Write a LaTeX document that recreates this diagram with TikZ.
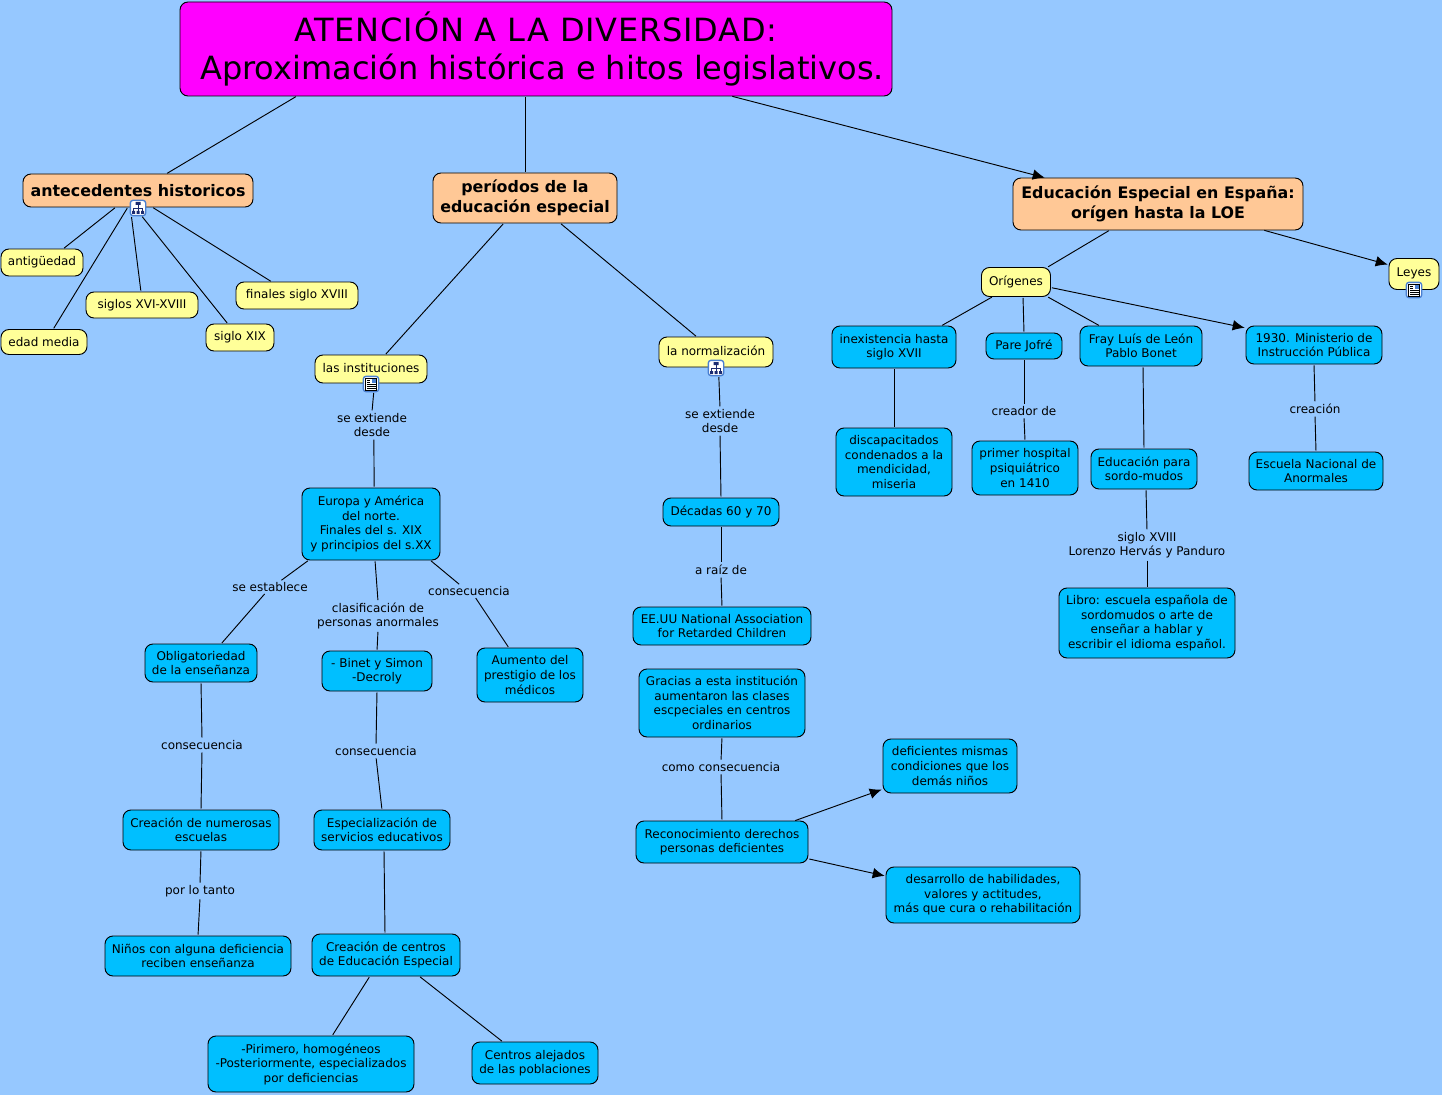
\documentclass[tikz,border=0pt]{standalone}
\usepackage{fontspec}
\setmainfont{DejaVu Sans}
\usetikzlibrary{arrows.meta}
\definecolor{bgblue}{HTML}{96C8FF}
\definecolor{titlepink}{HTML}{FF00FF}
\definecolor{peach}{HTML}{FFC896}
\definecolor{paleyellow}{HTML}{FFFF99}
\definecolor{skyblue}{HTML}{00BFFF}
\definecolor{iconblue}{HTML}{4A7FD0}
\definecolor{iconnavy}{HTML}{1A2A70}
\tikzset{
  sized/.style 2 args={minimum width=#1*0.75pt,minimum height=#2*0.75pt},
  px/.style={xshift=#1*0.75pt},
  cmap/.style={draw,rounded corners=6pt,inner sep=0pt,outer sep=0pt,align=center,
    line width=0.7pt,font=\fontsize{9}{10.9}\selectfont},
  head/.style={cmap,fill=peach,font=\fontsize{11.9}{14.6}\selectfont\bfseries},
  concept/.style={cmap,fill=paleyellow},
  info/.style={cmap,fill=skyblue},
  phrase/.style={inner sep=1pt,outer sep=0pt,align=center,font=\fontsize{9}{10.9}\selectfont},
  link/.style={line width=0.7pt,shorten <=1pt,shorten >=1pt},
  linkto/.style={link,-{Latex[length=9pt,width=8pt]}},
  iconbox/.style={draw=iconblue,fill=white,rounded corners=2pt,line width=1pt,
    minimum size=11.5pt,inner sep=0pt,outer sep=0pt},
  treeglyph/.pic={
    \fill[iconnavy] (-2.5,-6) rectangle (2.5,-3) (-6,3) rectangle (-3,6)
      (-1.5,3) rectangle (1.5,6) (3,3) rectangle (6,6);
    \draw[iconnavy,line width=0.5pt] (0,-3) -- (0,3) (-4.5,3) -- (-4.5,0) -- (4.5,0) -- (4.5,3);
  },
  pageglyph/.pic={
    \draw[black,fill=white,line width=0.5pt] (-5.5,-6) rectangle (5.5,6);
    \fill[iconblue] (0.5,-5) rectangle (4.5,-1);
    \draw[black,line width=0.5pt] (-4,-4) -- (-1,-4) (-4,-2) -- (-1,-2) (-4,0.5) -- (4.5,0.5)
      (-4,2.5) -- (4.5,2.5) (-4,4.5) -- (4.5,4.5);
  }
}
\begin{document}
\begin{tikzpicture}[x=0.75pt,y=-0.75pt]
\useasboundingbox (0,0) rectangle (1442,1095);
\fill[bgblue] (0,0) rectangle (1442,1095);
% top of the map
\node[cmap,fill=titlepink,sized={712}{94},font=\fontsize{24}{29.2}\selectfont]
  (title) at (536,49) {{\addfontfeature{LetterSpace=2.5}ATENCIÓN A LA DIVERSIDAD:}\\\hspace*{9pt}Aproximación histórica e hitos legislativos.};
\node[head,sized={230}{33}] (ante) at (138,190.5) {antecedentes historicos};
\node[head,sized={184}{50}] (peri) at (525,198) {períodos de la\\educación especial};
\node[head,sized={290}{52}] (espa) at (1158,204) {Educación Especial en España:\\orígen hasta la LOE};
% antecedentes
\node[iconbox] (treeA) at (138,208) {};
\pic at (treeA) {treeglyph};
\node[concept,sized={82}{27}] (anti) at (42,262.5) {antigüedad};
\node[concept,sized={86}{25}] (edad) at (44,342) {edad media};
\node[concept,sized={112}{26}] (xvi) at (142,305) {siglos XVI-XVIII};
\node[concept,sized={68}{27}] (xix) at (240,337.5) {siglo XIX};
\node[concept,sized={122}{27}] (xviii) at (297,295.5) {finales siglo XVIII};
% instituciones
\node[concept,sized={112}{28}] (inst) at (371,369) {\raisebox{1.5pt}{las instituciones}};
\node[iconbox] (pageA) at (371,384) {};
\pic at (pageA) {pageglyph};
\node[phrase] (desdeA) at (372,425) {se extiende\\desde};
\node[info,sized={138}{72}] (euro) at (371,524) {Europa y América\\del norte.\\Finales del s. XIX\\y principios del s.XX};
\node[phrase] (estab) at (270,587) {se establece};
\node[phrase] (clasif) at (378,616) {clasificación de\\personas anormales};
\node[phrase] (consA) at (469,591) {consecuencia};
\node[info,sized={112}{38}] (oblig) at (201,663) {Obligatoriedad\\de la enseñanza};
\node[info,sized={110}{40}] (binet) at (377,671) {- Binet y Simon\\-Decroly};
\node[info,sized={106}{54}] (aumen) at (530,675) {Aumento del\\prestigio de los\\médicos};
\node[phrase] (consB) at (202,745) {consecuencia};
\node[phrase] (consC) at (376,751) {consecuencia};
\node[info,sized={156}{40}] (escue) at (201,830) {Creación de numerosas\\escuelas};
\node[info,sized={136}{40}] (servi) at (382,830) {Especialización de\\servicios educativos};
\node[phrase] (tanto) at (200,891) {por lo tanto};
\node[info,sized={186}{40}] (ninos) at (198,956) {Niños con alguna deficiencia\\reciben enseñanza};
\node[info,sized={148}{42}] (centr) at (386,955) {Creación de centros\\de Educación Especial};
\node[info,sized={206}{56}] (pirim) at (311,1064) {-Pirimero, homogéneos\\-Posteriormente, especializados\\por deficiencias};
\node[info,sized={126}{42}] (aleja) at (535,1063) {Centros alejados\\de las poblaciones};
% normalizacion
\node[concept,sized={114}{30}] (norm) at (716,352) {\raisebox{1.5pt}{la normalización}};
\node[iconbox] (treeB) at (716,368) {};
\pic at (treeB) {treeglyph};
\node[phrase] (desdeB) at (720,421) {se extiende\\desde};
\node[info,sized={116}{28}] (decad) at (721,512) {Décadas 60 y 70};
\node[phrase] (raiz) at (721,570) {a raíz de};
\node[info,sized={178}{38}] (assoc) at (722,626) {EE.UU National Association\\for Retarded Children};
\node[info,sized={166}{68}] (graci) at (722,703) {Gracias a esta institución\\aumentaron las clases\\escpeciales en centros\\ordinarios};
\node[phrase] (comoc) at (721,767) {como consecuencia};
\node[info,sized={172}{42}] (recon) at (722,842) {Reconocimiento derechos\\personas deficientes};
\node[info,sized={134}{54}] (mismas) at (950,766) {deficientes mismas\\condiciones que los\\demás niños};
\node[info,sized={194}{56}] (habil) at (983,895) {desarrollo de habilidades,\\valores y actitudes,\\más que cura o rehabilitación};
% espana
\node[concept,sized={69}{29}] (orig) at (1016,282) {Orígenes};
\node[concept,sized={50}{31}] (leyes) at (1414,274) {\raisebox{2.2pt}{Leyes}};
\node[iconbox] (pageB) at (1414,290) {};
\pic at (pageB) {pageglyph};
\node[info,sized={124}{42}] (inexi) at (894,347) {inexistencia hasta\\siglo XVII};
\node[info,sized={76}{26}] (jofre) at (1024,346) {Pare Jofré};
\node[info,sized={122}{40}] (fray) at (1141,346) {Fray Luís de León\\Pablo Bonet};
\node[info,sized={136}{38}] (minis) at (1314,345) {1930. Ministerio de\\Instrucción Pública};
\node[info,sized={116}{68}] (disca) at (894,462) {discapacitados\\condenados a la\\mendicidad,\\miseria};
\node[phrase] (creador) at (1024,411) {creador de};
\node[info,sized={106}{54}] (hospi) at (1025,468) {primer hospital\\psiquiátrico\\en 1410};
\node[info,sized={106}{40}] (sordo) at (1144,469) {Educación para\\sordo-mudos};
\node[phrase] (lorenzo) at (1147,545) {siglo XVIII\\Lorenzo Hervás y Panduro};
\node[info,sized={176}{70}] (libro) at (1147,623) {Libro: escuela española de\\sordomudos o arte de\\enseñar a hablar y\\escribir el idioma español.};
\node[phrase] (creacion) at (1315,409) {creación};
\node[info,sized={134}{38}] (nacio) at (1316,471) {Escuela Nacional de\\Anormales};
% connectors
\draw[link] ([px=-239]title.south) -- ([px=28]ante.north);
\draw[link] ([px=-11]title.south) -- (peri.north);
\draw[linkto] ([px=195]title.south) -- ([px=-112]espa.north);
\draw[link] ([px=-22]ante.south) -- ([px=21]anti.north);
\draw[link] ([px=-10]ante.south) -- ([px=9]edad.north);
\draw[link] (treeA.-131.6) -- ([px=-1]xvi.north);
\draw[link] (treeA.-66) -- ([px=-12]xix.north);
\draw[link] ([px=14]ante.south) -- ([px=-25]xviii.north);
\draw[link] ([px=-21]peri.south) -- ([px=14]inst.north);
\draw[link] ([px=35]peri.south) -- ([px=-19]norm.north);
\draw[link] (pageA.-70) -- (desdeA.north);
\draw[link] (desdeA.-82.4) -- (euro.85.2);
\draw[link] ([px=-62]euro.south) -- (estab.30);
\draw[link] (estab.-127) -- ([px=20]oblig.north);
\draw[link] ([px=4]euro.south) -- (clasif.north);
\draw[link] (clasif.south) -- (binet.north);
\draw[link] ([px=59]euro.south) -- (consA.146.3);
\draw[link] (consA.-45) -- ([px=-21]aumen.north);
\draw[link] (oblig.south) -- (consB.north);
\draw[link] (consB.south) -- (escue.north);
\draw[link] (binet.south) -- (consC.north);
\draw[link] (consC.south) -- (servi.north);
\draw[link] (escue.south) -- (tanto.north);
\draw[link] (tanto.south) -- (ninos.north);
\draw[link] ([px=2]servi.south) -- ([px=-1]centr.north);
\draw[link] ([px=-16]centr.south) -- ([px=21]pirim.north);
\draw[link] ([px=33]centr.south) -- ([px=-32]aleja.north);
\draw[link] (treeB.-70) -- (desdeB.north);
\draw[link] (desdeB.south) -- (decad.north);
\draw[link] (decad.south) -- (raiz.north);
\draw[link] (raiz.south) -- (assoc.north);
\draw[link] (graci.south) -- (comoc.north);
\draw[link] (comoc.south) -- (recon.north);
\draw[linkto] ([px=72]recon.north) -- (mismas.-161.8);
\draw[linkto] (recon.-11.4) -- (habil.169.1);
\draw[link] ([px=-48]espa.south) -- ([px=31]orig.north);
\draw[linkto] ([px=105]espa.south) -- (leyes.160.3);
\draw[link] ([px=-23]orig.south) -- ([px=47]inexi.north);
\draw[link] ([px=7]orig.south) -- (jofre.north);
\draw[link] ([px=31]orig.south) -- ([px=-41]fray.north);
\draw[linkto] (orig.-9.7) -- (minis.166.5);
\draw[link] (inexi.south) -- (disca.north);
\draw[link] (jofre.south) -- (creador.north);
\draw[link] (creador.south) -- (hospi.north);
\draw[link] ([px=2]fray.south) -- (sordo.north);
\draw[link] ([px=2]sordo.south) -- (lorenzo.north);
\draw[link] (lorenzo.south) -- (libro.north);
\draw[link] (minis.south) -- (creacion.north);
\draw[link] (creacion.south) -- (nacio.north);
\end{tikzpicture}
\end{document}
